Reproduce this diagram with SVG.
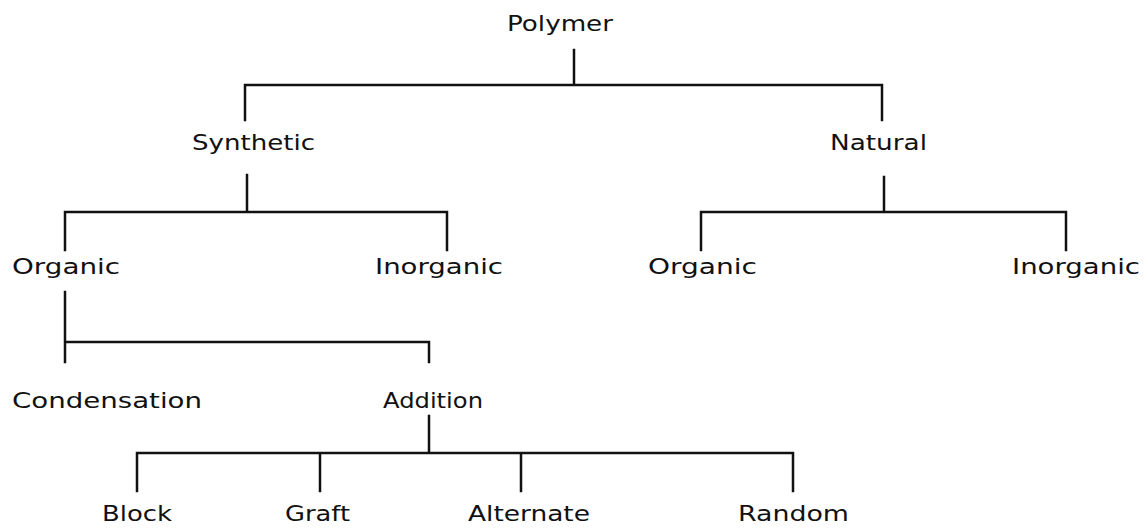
<svg xmlns="http://www.w3.org/2000/svg" width="1148" height="528" viewBox="0 0 1148 528">
<style>
.lbl{font-family:"DejaVu Sans","Liberation Sans",sans-serif;font-size:22px;fill:#111}
.ln{fill:none;stroke:#111;stroke-width:2.5;stroke-linecap:square;stroke-linejoin:miter}
</style>
<rect width="1148" height="528" fill="#fff"/>
<g id="connectors">
<path class="ln" d="M574,50 V85 M245,120 V85 H882 V120"/>
<path class="ln" d="M247,175 V212 M65,250 V212 H447 V250"/>
<path class="ln" d="M884,177 V212 M701,250 V212 H1066 V250"/>
<path class="ln" d="M65,292 V362 M65,342 H429 V362"/>
<path class="ln" d="M429,416 V453 M137,491 V453 H793 V491 M320,453 V491 M521,453 V491"/>
</g>
<g id="polymer"><text class="lbl" x="507" y="31" textLength="106" lengthAdjust="spacingAndGlyphs">Polymer</text></g>
<g id="synthetic"><text class="lbl" x="192" y="150" textLength="123" lengthAdjust="spacingAndGlyphs">Synthetic</text></g>
<g id="natural"><text class="lbl" x="830" y="150" textLength="97" lengthAdjust="spacingAndGlyphs">Natural</text></g>
<g id="syn-organic"><text class="lbl" x="12" y="274" textLength="108" lengthAdjust="spacingAndGlyphs">Organic</text></g>
<g id="syn-inorganic"><text class="lbl" x="375" y="274" textLength="128" lengthAdjust="spacingAndGlyphs">Inorganic</text></g>
<g id="nat-organic"><text class="lbl" x="648" y="274" textLength="109" lengthAdjust="spacingAndGlyphs">Organic</text></g>
<g id="nat-inorganic"><text class="lbl" x="1012" y="274" textLength="128" lengthAdjust="spacingAndGlyphs">Inorganic</text></g>
<g id="condensation"><text class="lbl" x="12" y="408" textLength="190" lengthAdjust="spacingAndGlyphs">Condensation</text></g>
<g id="addition"><text class="lbl" x="383" y="408" textLength="100" lengthAdjust="spacingAndGlyphs">Addition</text></g>
<g id="block"><text class="lbl" x="102" y="521" textLength="70" lengthAdjust="spacingAndGlyphs">Block</text></g>
<g id="graft"><text class="lbl" x="285" y="521" textLength="65" lengthAdjust="spacingAndGlyphs">Graft</text></g>
<g id="alternate"><text class="lbl" x="468" y="521" textLength="122" lengthAdjust="spacingAndGlyphs">Alternate</text></g>
<g id="random"><text class="lbl" x="738" y="521" textLength="111" lengthAdjust="spacingAndGlyphs">Random</text></g>
</svg>
